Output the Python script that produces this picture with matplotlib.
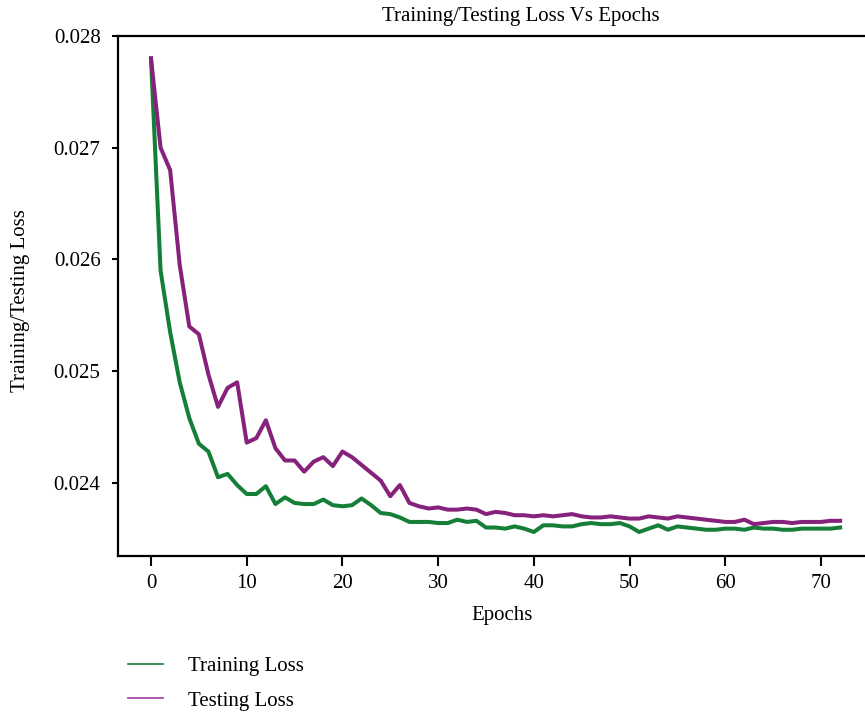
import matplotlib.pyplot as plt
import numpy as np

# values (epochs 0..72)
train_loss = [0.02780, 0.02590, 0.02535, 0.02490, 0.02458, 0.02435, 0.02428, 0.02405, 0.02408, 0.02398,
              0.02390, 0.02390, 0.02397, 0.02381, 0.02387, 0.02382, 0.02381, 0.02381, 0.02385, 0.02380,
              0.02379, 0.02380, 0.02386, 0.02380, 0.02373, 0.02372, 0.02369, 0.02365, 0.02365, 0.02365,
              0.02364, 0.02364, 0.02367, 0.02365, 0.02366, 0.02360, 0.02360, 0.02359, 0.02361, 0.02359,
              0.02356, 0.02362, 0.02362, 0.02361, 0.02361, 0.02363, 0.02364, 0.02363, 0.02363, 0.02364,
              0.02361, 0.02356, 0.02359, 0.02362, 0.02358, 0.02361, 0.02360, 0.02359, 0.02358, 0.02358,
              0.02359, 0.02359, 0.02358, 0.02360, 0.02359, 0.02359, 0.02358, 0.02358, 0.02359, 0.02359,
              0.02359, 0.02359, 0.02360]
test_loss = [0.02780, 0.02700, 0.02680, 0.02595, 0.02540, 0.02533, 0.02497, 0.02468, 0.02485, 0.02490,
             0.02436, 0.02440, 0.02456, 0.02431, 0.02420, 0.02420, 0.02410, 0.02419, 0.02423, 0.02415,
             0.02428, 0.02423, 0.02416, 0.02409, 0.02402, 0.02388, 0.02398, 0.02382, 0.02379, 0.02377,
             0.02378, 0.02376, 0.02376, 0.02377, 0.02376, 0.02372, 0.02374, 0.02373, 0.02371, 0.02371,
             0.02370, 0.02371, 0.02370, 0.02371, 0.02372, 0.02370, 0.02369, 0.02369, 0.02370, 0.02369,
             0.02368, 0.02368, 0.02370, 0.02369, 0.02368, 0.02370, 0.02369, 0.02368, 0.02367, 0.02366,
             0.02365, 0.02365, 0.02367, 0.02363, 0.02364, 0.02365, 0.02365, 0.02364, 0.02365, 0.02365,
             0.02365, 0.02366, 0.02366]
epochs = np.arange(len(train_loss))

x_ticks = [0, 10, 20, 30, 40, 50, 60, 70]
y_ticks = [0.024, 0.025, 0.026, 0.027, 0.028]

plt.rcParams['font.family'] = ['Liberation Serif', 'DejaVu Serif']
plt.rcParams['font.size'] = 15

fig = plt.figure(figsize=(8.65, 7.12), dpi=100)
ax = fig.add_axes([0.1364, 0.2191, 0.8636, 0.7303])

ax.plot(epochs, train_loss, color='#157f37', lw=2.9, label='Training Loss')
ax.plot(epochs, test_loss, color='#86227c', lw=2.9, label='Testing Loss')

ax.set_xlim(-3.45, 74.6)
ax.set_ylim(0.023345, 0.028)
ax.set_xticks(x_ticks)
ax.set_yticks(y_ticks)
ax.set_yticklabels([f'{v:.3f}' for v in y_ticks])

for side in ['left', 'bottom', 'top']:
    ax.spines[side].set_linewidth(1.6)
ax.spines['right'].set_visible(False)
ax.tick_params(axis='x', direction='out', length=7, width=1.5, pad=6)
ax.tick_params(axis='y', direction='out', length=4.5, width=1.5, pad=8)

ax.set_xlabel('Epochs')
ax.xaxis.set_label_coords(0.514, -0.096)
ax.set_ylabel('Training/Testing Loss')
ax.yaxis.set_label_coords(-0.118, 0.492)

fig.text(521 / 865, 1 - 17 / 712, 'Training/Testing Loss Vs Epochs', ha='center', va='center', fontsize=15)

# legend sits below the axes, left aligned, thin handles
handles = [plt.Line2D([], [], color='#1a7a40', lw=1.2), plt.Line2D([], [], color='#9b3d99', lw=1.2)]
fig.legend(handles, ['Training Loss', 'Testing Loss'], loc='upper left',
           bbox_to_anchor=(118 / 865, 1 - 646 / 712), frameon=False, borderpad=0,
           handlelength=1.65, handletextpad=1.2, labelspacing=0.72)

fig.savefig('out.png', dpi=100)
